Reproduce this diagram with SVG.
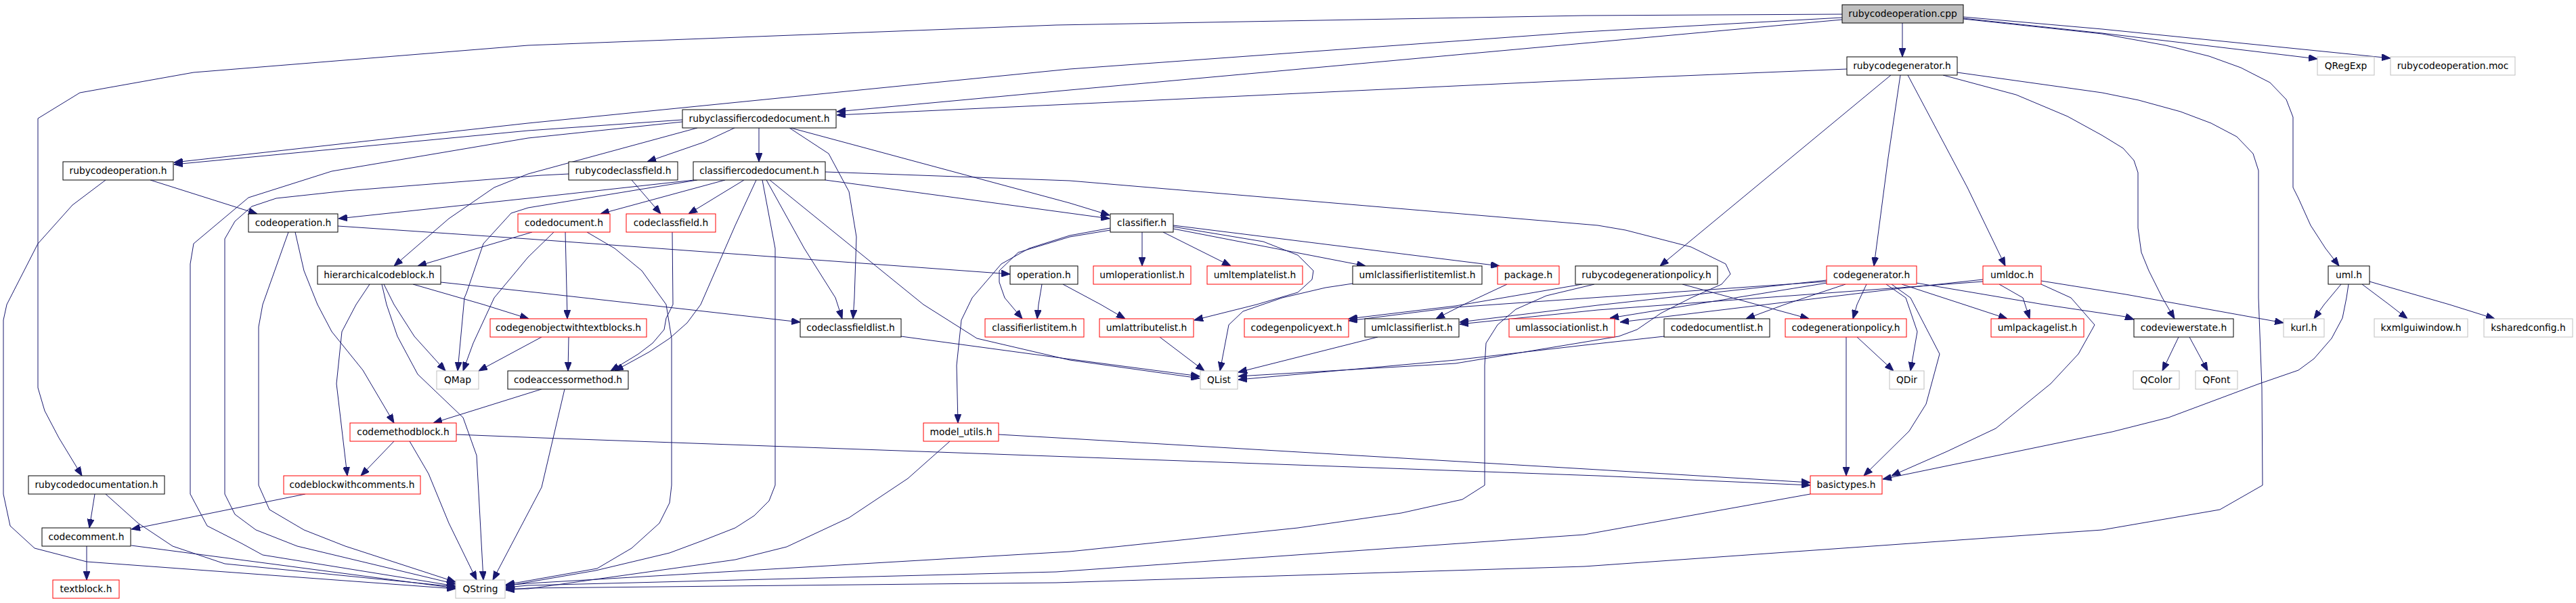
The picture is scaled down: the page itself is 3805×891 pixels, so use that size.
<svg xmlns="http://www.w3.org/2000/svg" width="3805" height="891" viewBox="0 0 3805 891">
<style>
.node rect{fill:#fff;stroke:#000;stroke-width:1}
.node.red rect{stroke:#ff0000}
.node.ext rect{stroke:#bfbfbf}
.node.root rect{fill:#bfbfbf}
.node text{font-family:"DejaVu Sans",sans-serif;font-size:13.8px;text-anchor:middle;fill:#000}
#edges path{fill:none;stroke:#191970;stroke-width:1;marker-end:url(#arr)}
</style>
<defs>
<marker id="arr" viewBox="0 0 13 10" refX="13" refY="5" markerWidth="13" markerHeight="10" orient="auto" markerUnits="userSpaceOnUse">
<path d="M0,0 L13,5 L0,10 z" fill="#191970" stroke="#191970"/>
</marker>
</defs>
<rect width="3805" height="891" fill="#fff"/>
<g id="edges">
<path d="M2810,34 L2810,84"/>
<path d="M2721,29 L2360,62 L1580,133 L1236,165"/>
<path d="M2728,102 L2340,118 L1580,154 L1236,170"/>
<path d="M2721,26 L2340,47 L1580,102 L780,182 L257,240"/>
<path d="M2721,21 L2340,23 L1560,37 L780,67 L286,107 L118,137 L56,175 L56,573 L66,607 L87,647 L121,703"/>
<path d="M2900,27 L3105,49 L3423,87"/>
<path d="M2900,25 L3105,43 L3531,86"/>
<path d="M2900,28 L3105,50 L3199,67 L3263,83 L3310,100 L3353,122 L3377,147 L3387,173 L3387,277 L3395,293 L3413,333 L3435,367 L3455,393"/>
<path d="M2793,111 L2452,393"/>
<path d="M2807,111 L2789,233 L2768,393"/>
<path d="M2818,111 L2906,277 L2962,393"/>
<path d="M2870,111 L2978,140 L3054,172 L3105,200 L3136,219 L3152,237 L3158,255 L3158,337 L3163,373 L3174,400 L3194,440 L3212,471"/>
<path d="M2891,107 L3105,137 L3159,148 L3221,165 L3266,182 L3304,202 L3328,227 L3336,252 L3336,440 L3341,573 L3342,717 L3279,753 L3105,783 L2340,837 L1560,861 L780,869 L747,872"/>
<path d="M1008,177 L780,193 L257,243"/>
<path d="M1008,180 L780,204 L490,253 L367,292 L286,360 L281,390 L281,730 L306,777 L357,803 L388,820 L673,866"/>
<path d="M1030,189 L780,257 L730,277 L663,323 L582,393"/>
<path d="M1085,189 L1040,210 L956,239"/>
<path d="M1121,189 L1121,239"/>
<path d="M1166,189 L1224,227 L1254,283 L1265,350 L1262,440 L1260,471"/>
<path d="M1168,189 L1580,300 L1639,318"/>
<path d="M222,266 L380,316"/>
<path d="M156,266 L107,303 L56,360 L10,450 L5,473 L5,730 L15,777 L51,810 L128,830 L673,870"/>
<path d="M933,266 L976,316"/>
<path d="M840,257 L800,259 L510,282 L408,293 L372,305 L347,327 L332,353 L332,730 L347,760 L378,783 L439,807 L673,863"/>
<path d="M1025,266 L780,293 L500,323"/>
<path d="M1030,266 L780,307 L755,315 L714,360 L689,433 L686,440 L676,548"/>
<path d="M1071,266 L887,316"/>
<path d="M1099,266 L1017,316"/>
<path d="M1117,266 L1086,333 L1035,450 L1015,477 L989,500 L959,520 L908,548"/>
<path d="M1126,266 L1145,367 L1145,717 L1136,740 L1114,762 L1086,780 L1040,798 L989,817 L880,843 L747,866"/>
<path d="M1132,266 L1188,367 L1234,440 L1244,471"/>
<path d="M1137,266 L1364,450 L1443,500 L1580,532 L1772,559"/>
<path d="M1219,266 L1580,315 L1639,323"/>
<path d="M1219,254 L1580,267 L2360,333 L2401,340 L2498,365 L2549,390 L2556,405 L2543,420 L2498,440 L2453,463 L2418,487 L2391,497 L2150,537 L1829,556"/>
<path d="M426,343 L388,450 L382,483 L382,717 L398,753 L449,783 L510,807 L673,860"/>
<path d="M436,343 L449,400 L469,450 L490,490 L536,547 L582,625"/>
<path d="M499,334 L780,353 L1492,405"/>
<path d="M786,343 L617,393"/>
<path d="M818,343 L780,380 L730,440 L699,507 L684,548"/>
<path d="M835,343 L838,471"/>
<path d="M867,343 L908,367 L948,400 L984,450 L992,500 L992,717 L989,743 L974,773 L933,810 L882,840 L747,864"/>
<path d="M993,343 L994,450 L984,470 L981,487 L964,507 L943,523 L902,548"/>
<path d="M1687,343 L1687,393"/>
<path d="M1718,343 L1818,393"/>
<path d="M1733,338 L2017,393"/>
<path d="M1733,333 L2215,393"/>
<path d="M1733,335 L1866,357 L1917,377 L1940,400 L1938,413 L1917,432 L1856,450 L1764,473"/>
<path d="M1640,337 L1580,348 L1520,367 L1479,390 L1436,440 L1420,473 L1413,540 L1415,625"/>
<path d="M1640,340 L1580,350 L1504,373 L1476,400 L1476,417 L1484,440 L1510,471"/>
<path d="M651,417 L800,433 L1182,476"/>
<path d="M610,420 L714,450 L781,471"/>
<path d="M567,420 L582,450 L612,497 L658,548"/>
<path d="M564,420 L571,450 L587,497 L617,553 L663,597 L684,617 L704,673 L714,857"/>
<path d="M546,420 L526,450 L505,490 L497,567 L513,703"/>
<path d="M1539,420 L1534,450 L1532,471"/>
<path d="M1570,420 L1626,450 L1662,471"/>
<path d="M1998,419 L1958,425 L1894,440 L1836,460 L1815,480 L1802,548"/>
<path d="M2226,420 L2162,450 L2121,471"/>
<path d="M2337,420 L2150,452 L1992,471"/>
<path d="M2355,420 L2284,437 L2239,457 L2212,480 L2195,507 L2193,540 L2193,717 L2160,738 L2070,758 L1917,780 L1580,815 L780,862 L747,865"/>
<path d="M2485,420 L2595,450 L2672,471"/>
<path d="M2698,416 L2150,454 L1992,474"/>
<path d="M2698,414 L2360,451 L2156,476"/>
<path d="M2929,416 L2360,458 L2156,479"/>
<path d="M2929,413 L2799,427 L2393,476"/>
<path d="M2699,418 L2378,470"/>
<path d="M2726,420 L2636,450 L2579,471"/>
<path d="M2458,497 L2340,510 L2150,532 L1829,561"/>
<path d="M2757,420 L2743,450 L2737,471"/>
<path d="M2786,420 L2815,440 L2832,490 L2822,548"/>
<path d="M2794,420 L2822,440 L2865,523 L2845,597 L2820,637 L2753,703"/>
<path d="M2809,420 L2901,450 L2965,471"/>
<path d="M2830,418 L3019,450 L3140,468 L3152,472"/>
<path d="M2953,420 L2988,440 L2998,471"/>
<path d="M3015,415 L3140,435 L3212,448 L3373,477"/>
<path d="M3015,420 L3059,440 L3094,480 L3070,523 L3029,567 L2948,633 L2876,667 L2794,703"/>
<path d="M3458,420 L3433,450 L3418,471"/>
<path d="M3489,420 L3529,450 L3556,471"/>
<path d="M3500,416 L3618,450 L3685,471"/>
<path d="M3469,420 L3466,440 L3460,470 L3444,500 L3418,530 L3395,547 L3337,567 L3203,617 L3120,638 L2781,708"/>
<path d="M3218,498 L3194,548"/>
<path d="M3234,498 L3261,548"/>
<path d="M2727,498 L2727,703"/>
<path d="M2743,498 L2797,548"/>
<path d="M2674,730 L2340,790 L1560,845 L780,865 L747,868"/>
<path d="M1403,652 L1341,707 L1254,765 L1162,808 L1086,827 L780,870 L747,870"/>
<path d="M1475,642 L1580,648 L2360,694 L2674,713"/>
<path d="M674,642 L800,647 L1580,675 L2360,703 L2674,717"/>
<path d="M582,652 L533,703"/>
<path d="M605,652 L633,700 L663,773 L704,857"/>
<path d="M800,575 L640,625"/>
<path d="M834,575 L800,720 L728,857"/>
<path d="M840,498 L839,548"/>
<path d="M800,498 L707,548"/>
<path d="M1331,497 L1560,528 L1772,556"/>
<path d="M1713,498 L1779,548"/>
<path d="M2035,498 L1829,550"/>
<path d="M451,730 L194,782"/>
<path d="M140,730 L132,780"/>
<path d="M156,730 L204,773 L255,807 L332,833 L673,867"/>
<path d="M128,807 L128,857"/>
<path d="M194,806 L673,869"/>
</g>
<g id="n_rubycodeoperation_cpp" class="node root"><rect x="2721" y="7" width="179" height="27"/><text x="2810.5" y="25">rubycodeoperation.cpp</text></g>
<g id="n_rubycodegenerator_h" class="node"><rect x="2728" y="84" width="163" height="27"/><text x="2809.5" y="102">rubycodegenerator.h</text></g>
<g id="n_QRegExp" class="node ext"><rect x="3423" y="84" width="84" height="27"/><text x="3465" y="102">QRegExp</text></g>
<g id="n_rubycodeoperation_moc" class="node ext"><rect x="3531" y="84" width="184" height="27"/><text x="3623" y="102">rubycodeoperation.moc</text></g>
<g id="n_rubyclassifiercodedocument_h" class="node"><rect x="1008" y="162" width="227" height="27"/><text x="1121.5" y="180">rubyclassifiercodedocument.h</text></g>
<g id="n_rubycodeoperation_h" class="node"><rect x="93" y="239" width="163" height="27"/><text x="174.5" y="257">rubycodeoperation.h</text></g>
<g id="n_rubycodeclassfield_h" class="node"><rect x="840" y="239" width="161" height="27"/><text x="920.5" y="257">rubycodeclassfield.h</text></g>
<g id="n_classifiercodedocument_h" class="node"><rect x="1024" y="239" width="195" height="27"/><text x="1121.5" y="257">classifiercodedocument.h</text></g>
<g id="n_codeoperation_h" class="node"><rect x="367" y="316" width="132" height="27"/><text x="433" y="334">codeoperation.h</text></g>
<g id="n_codedocument_h" class="node red"><rect x="765" y="316" width="136" height="27"/><text x="833" y="334">codedocument.h</text></g>
<g id="n_codeclassfield_h" class="node red"><rect x="925" y="316" width="132" height="27"/><text x="991" y="334">codeclassfield.h</text></g>
<g id="n_classifier_h" class="node"><rect x="1640" y="316" width="93" height="27"/><text x="1686.5" y="334">classifier.h</text></g>
<g id="n_hierarchicalcodeblock_h" class="node"><rect x="469" y="393" width="182" height="27"/><text x="560" y="411">hierarchicalcodeblock.h</text></g>
<g id="n_operation_h" class="node"><rect x="1492" y="393" width="100" height="27"/><text x="1542" y="411">operation.h</text></g>
<g id="n_umloperationlist_h" class="node red"><rect x="1615" y="393" width="144" height="27"/><text x="1687" y="411">umloperationlist.h</text></g>
<g id="n_umltemplatelist_h" class="node red"><rect x="1783" y="393" width="141" height="27"/><text x="1853.5" y="411">umltemplatelist.h</text></g>
<g id="n_umlclassifierlistitemlist_h" class="node"><rect x="1998" y="393" width="191" height="27"/><text x="2093.5" y="411">umlclassifierlistitemlist.h</text></g>
<g id="n_package_h" class="node red"><rect x="2212" y="393" width="91" height="27"/><text x="2257.5" y="411">package.h</text></g>
<g id="n_rubycodegenerationpolicy_h" class="node"><rect x="2327" y="393" width="210" height="27"/><text x="2432" y="411">rubycodegenerationpolicy.h</text></g>
<g id="n_codegenerator_h" class="node red"><rect x="2698" y="393" width="133" height="27"/><text x="2764.5" y="411">codegenerator.h</text></g>
<g id="n_umldoc_h" class="node red"><rect x="2929" y="393" width="86" height="27"/><text x="2972" y="411">umldoc.h</text></g>
<g id="n_uml_h" class="node"><rect x="3439" y="393" width="61" height="27"/><text x="3469.5" y="411">uml.h</text></g>
<g id="n_codegenobjectwithtextblocks_h" class="node red"><rect x="724" y="471" width="231" height="27"/><text x="839.5" y="489">codegenobjectwithtextblocks.h</text></g>
<g id="n_codeclassfieldlist_h" class="node"><rect x="1182" y="471" width="149" height="27"/><text x="1256.5" y="489">codeclassfieldlist.h</text></g>
<g id="n_classifierlistitem_h" class="node red"><rect x="1455" y="471" width="146" height="27"/><text x="1528" y="489">classifierlistitem.h</text></g>
<g id="n_umlattributelist_h" class="node red"><rect x="1624" y="471" width="139" height="27"/><text x="1693.5" y="489">umlattributelist.h</text></g>
<g id="n_codegenpolicyext_h" class="node red"><rect x="1838" y="471" width="154" height="27"/><text x="1915" y="489">codegenpolicyext.h</text></g>
<g id="n_umlclassifierlist_h" class="node"><rect x="2016" y="471" width="139" height="27"/><text x="2085.5" y="489">umlclassifierlist.h</text></g>
<g id="n_umlassociationlist_h" class="node red"><rect x="2229" y="471" width="156" height="27"/><text x="2307" y="489">umlassociationlist.h</text></g>
<g id="n_codedocumentlist_h" class="node"><rect x="2458" y="471" width="156" height="27"/><text x="2536" y="489">codedocumentlist.h</text></g>
<g id="n_codegenerationpolicy_h" class="node red"><rect x="2637" y="471" width="179" height="27"/><text x="2726.5" y="489">codegenerationpolicy.h</text></g>
<g id="n_umlpackagelist_h" class="node red"><rect x="2941" y="471" width="137" height="27"/><text x="3009.5" y="489">umlpackagelist.h</text></g>
<g id="n_codeviewerstate_h" class="node"><rect x="3152" y="471" width="147" height="27"/><text x="3225.5" y="489">codeviewerstate.h</text></g>
<g id="n_kurl_h" class="node ext"><rect x="3373" y="471" width="60" height="27"/><text x="3403" y="489">kurl.h</text></g>
<g id="n_kxmlguiwindow_h" class="node ext"><rect x="3507" y="471" width="138" height="27"/><text x="3576" y="489">kxmlguiwindow.h</text></g>
<g id="n_ksharedconfig_h" class="node ext"><rect x="3669" y="471" width="131" height="27"/><text x="3734.5" y="489">ksharedconfig.h</text></g>
<g id="n_QMap" class="node ext"><rect x="645" y="548" width="62" height="27"/><text x="676" y="566">QMap</text></g>
<g id="n_codeaccessormethod_h" class="node"><rect x="750" y="548" width="178" height="27"/><text x="839" y="566">codeaccessormethod.h</text></g>
<g id="n_QList" class="node ext"><rect x="1773" y="548" width="55" height="27"/><text x="1800.5" y="566">QList</text></g>
<g id="n_QDir" class="node ext"><rect x="2791" y="548" width="51" height="27"/><text x="2816.5" y="566">QDir</text></g>
<g id="n_QColor" class="node ext"><rect x="3151" y="548" width="68" height="27"/><text x="3185" y="566">QColor</text></g>
<g id="n_QFont" class="node ext"><rect x="3243" y="548" width="62" height="27"/><text x="3274" y="566">QFont</text></g>
<g id="n_codemethodblock_h" class="node red"><rect x="517" y="625" width="157" height="27"/><text x="595.5" y="643">codemethodblock.h</text></g>
<g id="n_model_utils_h" class="node red"><rect x="1364" y="625" width="111" height="27"/><text x="1419.5" y="643">model_utils.h</text></g>
<g id="n_rubycodedocumentation_h" class="node"><rect x="42" y="703" width="201" height="27"/><text x="142.5" y="721">rubycodedocumentation.h</text></g>
<g id="n_codeblockwithcomments_h" class="node red"><rect x="419" y="703" width="202" height="27"/><text x="520" y="721">codeblockwithcomments.h</text></g>
<g id="n_basictypes_h" class="node red"><rect x="2674" y="703" width="106" height="27"/><text x="2727" y="721">basictypes.h</text></g>
<g id="n_codecomment_h" class="node"><rect x="62" y="780" width="131" height="27"/><text x="127.5" y="798">codecomment.h</text></g>
<g id="n_textblock_h" class="node red"><rect x="78" y="857" width="98" height="27"/><text x="127" y="875">textblock.h</text></g>
<g id="n_QString" class="node ext"><rect x="673" y="857" width="73" height="27"/><text x="709.5" y="875">QString</text></g>
</svg>
